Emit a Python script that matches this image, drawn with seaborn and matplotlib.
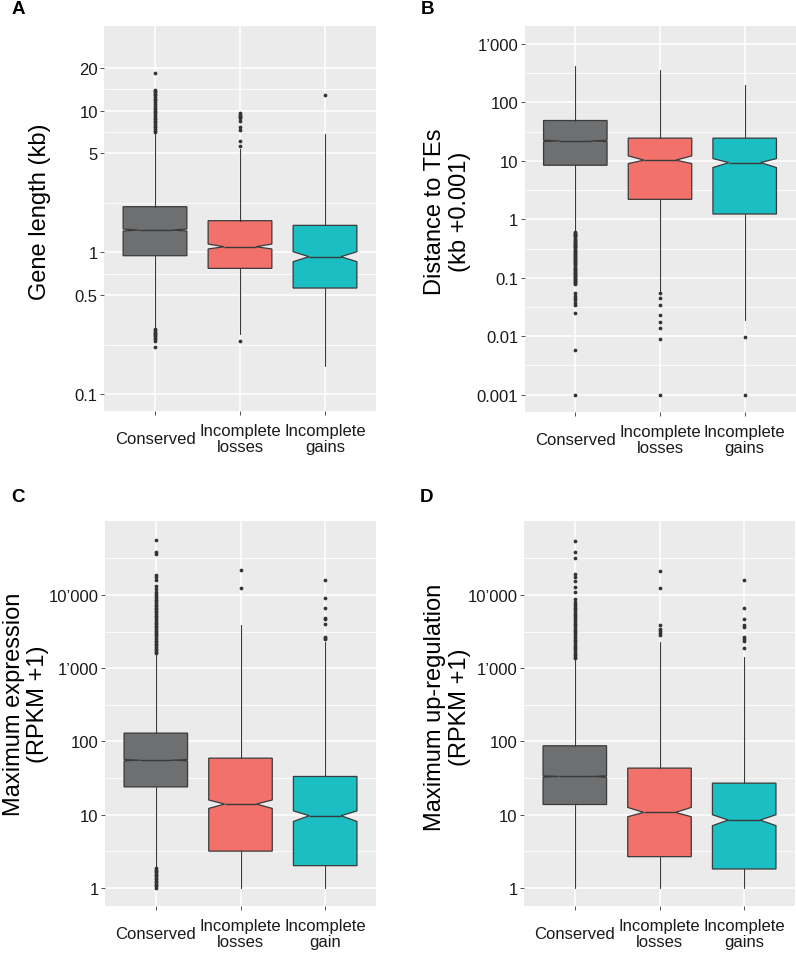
import matplotlib
matplotlib.use("Agg")
import matplotlib.pyplot as plt
from matplotlib.ticker import NullFormatter
import seaborn as sns

# categories / colours
groups = ["Conserved", "Incomplete\nlosses", "Incomplete\ngains"]
groups_c = ["Conserved", "Incomplete\nlosses", "Incomplete\ngain"]
box_colors = ["#6E6F71", "#F2716A", "#1BBEC2"]

# A: gene length (kb)
len_q1 = [0.947, 0.771, 0.560]
len_med = [1.437, 1.096, 0.932]
len_q3 = [2.10, 1.673, 1.551]
len_lo = [0.296, 0.265, 0.158]
len_hi = [6.84, 5.36, 6.84]
len_ci_lo = [1.415, 1.056, 0.859]
len_ci_hi = [1.46, 1.145, 1.01]
len_out = [
    [18.3, 14.1, 13.8, 13.5, 13.1, 12.8, 12.4, 12.1, 11.8, 11.5, 11.1, 10.8, 10.5, 10.3,
     10.0, 9.73, 9.45, 9.22, 8.95, 8.73, 8.5, 8.27, 8.05, 7.84, 7.63, 7.43, 7.23, 7.03,
     0.288, 0.281, 0.275, 0.27, 0.266, 0.26, 0.255, 0.25, 0.245, 0.238, 0.216],
    [9.57, 9.35, 9.22, 9.05, 8.88, 8.5, 7.63, 7.34, 6.15, 5.66, 0.235],
    [13.0],
]

# B: distance to TEs (kb + 0.001)
dist_q1 = [8.43, 2.2, 1.234]
dist_med = [22.0, 10.3, 9.36]
dist_q3 = [49.1, 24.5, 24.5]
dist_lo = [0.631, 0.059, 0.0193]
dist_hi = [427, 366, 200]
dist_ci_lo = [21.4, 9.0, 7.69]
dist_ci_hi = [22.6, 12.2, 10.96]
dist_out = [
    [0.61, 0.59, 0.57, 0.55, 0.53, 0.51, 0.49, 0.47, 0.45, 0.43, 0.41, 0.40, 0.38, 0.37,
     0.355, 0.34, 0.33, 0.315, 0.30, 0.29, 0.28, 0.27, 0.26, 0.25, 0.24, 0.23, 0.22, 0.21,
     0.20, 0.193, 0.185, 0.178, 0.17, 0.163, 0.156, 0.15, 0.144, 0.138, 0.132, 0.127,
     0.122, 0.117, 0.112, 0.107, 0.103, 0.099, 0.095, 0.091, 0.087, 0.084, 0.081, 0.078,
     0.0553, 0.0498, 0.0454, 0.0409, 0.0373, 0.0345, 0.0248, 0.0059, 0.001],
    [0.054, 0.0443, 0.0345, 0.0235, 0.0178, 0.0139, 0.0089, 0.001],
    [0.0098, 0.001],
]

# C: maximum expression (RPKM + 1)
expr_q1 = [24.0, 3.19, 2.02]
expr_med = [55.6, 14.0, 9.7]
expr_q3 = [130, 59.2, 33.3]
expr_lo = [1.9, 1.0, 1.0]
expr_hi = [1600, 3940, 2260]
expr_ci_lo = [54.4, 12.2, 8.1]
expr_ci_hi = [56.8, 15.9, 11.3]
expr_out = [
    [56200, 39000, 36200, 18900, 17500, 16200, 13100, 12100, 11100, 10300, 9600, 9000,
     8600, 8200, 7800, 7400, 7000, 6700, 6400, 6100, 5800, 5500, 5200, 4950, 4700, 4450,
     4200, 4000, 3800, 3600, 3400, 3250, 3100, 2950, 2800, 2650, 2500, 2380, 2260, 2150,
     2050, 1950, 1850, 1760, 1680, 1620,
     1.85, 1.78, 1.71, 1.64, 1.57, 1.5, 1.44, 1.38, 1.32, 1.26, 1.2, 1.15, 1.1, 1.05, 1.0],
    [21700, 12600],
    [16000, 9000, 6580, 4860, 4700, 3990, 2700, 2620, 2540],
]

# D: maximum up-regulation (RPKM + 1)
up_q1 = [13.8, 2.68, 1.82]
up_med = [33.3, 10.76, 8.46]
up_q3 = [87.3, 43.3, 27.0]
up_lo = [1.0, 1.0, 1.0]
up_hi = [1370, 2260, 1440]
up_ci_lo = [32.6, 9.4, 7.1]
up_ci_hi = [34.0, 12.6, 10.0]
up_out = [
    [55100, 39000, 32000, 19300, 17400, 15700, 12700, 10900, 8820, 7940, 7500, 7100, 6700,
     6350, 6000, 5700, 5400, 5100, 4800, 4550, 4300, 4050, 3850, 3650, 3450, 3250, 3080,
     2900, 2750, 2600, 2450, 2320, 2200, 2080, 1970, 1860, 1760, 1670, 1580, 1500, 1430,
     1390],
    [21500, 12600, 3940, 3440, 3260, 3030, 2850],
    [16000, 6580, 4720, 3830, 3700, 2650, 2510, 2340, 1890],
]

# axis breaks
len_ticks = [0.1, 0.5, 1, 5, 10, 20]
len_labels = ["0.1", "0.5", "1", "5", "10", "20"]
len_minor = [0.2236, 0.7071, 2.236, 7.071, 14.14]
dist_ticks = [0.001, 0.01, 0.1, 1, 10, 100, 1000]
dist_labels = ["0.001", "0.01", "0.1", "1", "10", "100", "1\u2019000"]
dist_minor = [0.00316, 0.0316, 0.316, 3.16, 31.6, 316]
rpkm_ticks = [1, 10, 100, 1000, 10000]
rpkm_labels = ["1", "10", "100", "1\u2019000", "10\u2019000"]
rpkm_minor = [3.162, 31.62, 316.2, 3162, 31623]

sns.set_theme(style="darkgrid", rc={"axes.facecolor": "#EBEBEB", "grid.color": "white"})
plt.rcParams["font.family"] = ["Liberation Sans", "DejaVu Sans"]

EDGE = "#3A3A3A"


def draw_panel(ax, q1, med, q3, lo, hi, ci_lo, ci_hi, out, cats, ticks, labels, minor,
               ylim, ylabel, label_xy):
    stats = []
    for i in range(len(cats)):
        stats.append(dict(q1=q1[i], med=med[i], q3=q3[i], whislo=lo[i], whishi=hi[i],
                          cilo=ci_lo[i], cihi=ci_hi[i], fliers=out[i]))
    bp = ax.bxp(stats, positions=range(len(cats)), widths=0.75, shownotches=True,
                patch_artist=True, showcaps=False,
                boxprops=dict(edgecolor=EDGE, linewidth=0.9),
                medianprops=dict(color=EDGE, linewidth=1.0),
                whiskerprops=dict(color="#3A3A3A", linewidth=0.8),
                flierprops=dict(marker="o", markersize=2.7, markerfacecolor="#333333",
                                markeredgewidth=0, linestyle="none"))
    for patch, col in zip(bp["boxes"], box_colors):
        patch.set_facecolor(col)
    ax.set_yscale("log")
    ax.set_ylim(*ylim)
    ax.set_xlim(-0.6, 2.6)
    ax.set_yticks(ticks, labels)
    ax.set_yticks(minor, minor=True)
    ax.yaxis.set_minor_formatter(NullFormatter())
    ax.set_xticks(range(len(cats)), cats, linespacing=1.1, multialignment="center", va="center")
    ax.grid(which="major", color="white", linewidth=1.1)
    ax.grid(which="minor", axis="y", color="white", linewidth=0.55)
    ax.grid(which="minor", axis="x", visible=False)
    ax.tick_params(axis="both", which="major", bottom=True, left=True, length=3, width=0.6,
                   color="#333333", labelcolor="#1A1A1A", labelsize=12)
    ax.tick_params(axis="y", which="major", pad=1.5)
    ax.tick_params(axis="x", which="major", pad=17)
    ax.tick_params(which="minor", length=0)
    for s in ax.spines.values():
        s.set_visible(False)
    ax.set_ylabel(ylabel, fontsize=17, va="center", linespacing=1.15, color="black")
    ax.yaxis.set_label_coords(*label_xy)


fig = plt.figure(figsize=(7.96, 9.54), dpi=100)
W, H = 796, 954
axA = fig.add_axes([104 / W, 1 - 412 / H, 272 / W, 385 / H])
axB = fig.add_axes([524.5 / W, 1 - 412.7 / H, 271 / W, 386 / H])
axC = fig.add_axes([105 / W, 1 - 906.7 / H, 271 / W, 385 / H])
axD = fig.add_axes([524 / W, 1 - 906.7 / H, 271 / W, 385 / H])

draw_panel(axA, len_q1, len_med, len_q3, len_lo, len_hi, len_ci_lo, len_ci_hi, len_out,
           groups, len_ticks, len_labels, len_minor, (0.0759, 39.6),
           "Gene length (kb)", (-0.235, 0.519))
draw_panel(axB, dist_q1, dist_med, dist_q3, dist_lo, dist_hi, dist_ci_lo, dist_ci_hi, dist_out,
           groups, dist_ticks, dist_labels, dist_minor, (0.000512, 2056),
           "Distance to TEs\n(kb +0.001)", (-0.284, 0.52))
draw_panel(axC, expr_q1, expr_med, expr_q3, expr_lo, expr_hi, expr_ci_lo, expr_ci_hi, expr_out,
           groups_c, rpkm_ticks, rpkm_labels, rpkm_minor, (0.574, 103000),
           "Maximum expression\n(RPKM +1)", (-0.2915, 0.525))
draw_panel(axD, up_q1, up_med, up_q3, up_lo, up_hi, up_ci_lo, up_ci_hi, up_out,
           groups, rpkm_ticks, rpkm_labels, rpkm_minor, (0.574, 103000),
           "Maximum up-regulation\n(RPKM +1)", (-0.282, 0.517))

for letter, (px, py) in zip("ABCD", [(18, 10), (427, 10), (18, 497), (426, 497)]):
    fig.text(px / W, 1 - py / H, letter, fontsize=13.5, fontweight="bold",
             ha="center", va="center", color="black")

fig.savefig("out.png", dpi=100)
